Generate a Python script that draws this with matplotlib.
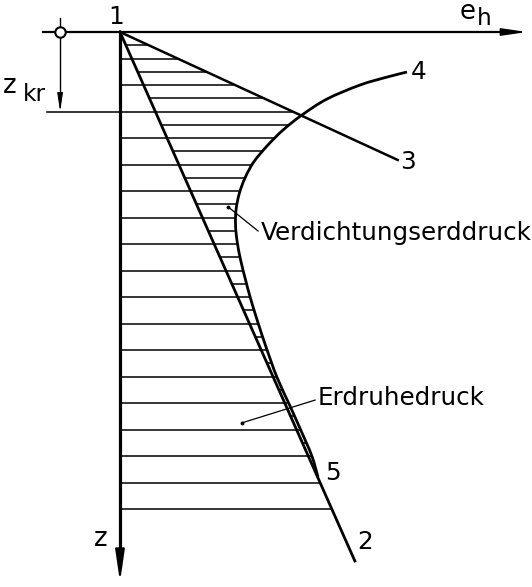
import numpy as np
import matplotlib
matplotlib.use("Agg")
import matplotlib.pyplot as plt
from matplotlib.path import Path
from matplotlib.patches import PathPatch

# ---------------- data (units: one hatch spacing) ----------------
k0_slope = 0.444          # line 1-2 (Erdruhedruck): e = k0 * z
ka_slope = 2.17           # line 1-3: e = ka * z
line12_end_z = 19.96
line13_end_z = 4.83
z_kr = 3.0
hatch_coarse_z = list(range(1, 19))            # 1 .. 18
hatch_fine_z = [k + 0.5 for k in range(0, 17)]  # 0.5 .. 16.5

# Verdichtungserddruck curve (branch ending at 4)
curve_e = [10.83, 10.08, 9.06, 7.81, 6.87, 6.15, 5.55, 5.05, 4.72, 4.50, 4.38,
           4.36, 4.42, 4.55, 4.75, 4.91, 5.21, 5.55, 5.92, 6.40, 6.82,
           7.24, 7.47]
curve_z = [1.51, 1.70, 2.00, 2.53, 3.13, 3.70, 4.30, 4.90, 5.50, 6.10, 6.70,
           7.30, 7.90, 8.60, 9.40, 10.00, 10.98, 12.00, 13.02, 14.08,
           15.02, 16.00, 16.79]

# axis extents
e_axis_min, e_axis_max = -2.9, 15.36
z_axis_max = 20.75
circle_e = -2.26
zkr_line_top = -0.53
zkr_tick_left = -2.75

labels_pts = {"1": (-0.15, -0.57), "4": (11.25, 1.51), "3": (10.87, 4.91),
              "5": (8.04, 16.64), "2": (9.25, 19.25)}

# ---------------- figure ----------------
W, H, DPI = 532, 587, 100
UNIT = 26.5
ox, oy = 120, 32
fig = plt.figure(figsize=(W / DPI, H / DPI), dpi=DPI)
ax = fig.add_axes([0, 0, 1, 1])
ax.set_xlim((0 - ox) / UNIT, (W - ox) / UNIT)
ax.set_ylim((H - oy) / UNIT, (0 - oy) / UNIT)
ax.axis("off")

FS = 17.7
lw_main = 2.0
lw_hatch = 1.1

ce = np.array(curve_e)
cz = np.array(curve_z)


def line12(z):
    return k0_slope * z


def line13(z):
    return ka_slope * z


def envelope(z):
    if z <= line13_end_z:
        env = line13(z)
        if z >= cz[0]:
            env = min(env, np.interp(z, cz, ce))
    elif z <= cz[-1]:
        env = np.interp(z, cz, ce)
    else:
        env = line12(z)
    return max(env, line12(z))


def smooth_path(xs, ys):
    """Catmull-Rom through the read points, expressed as cubic Bezier path."""
    pts = np.column_stack([xs, ys])
    verts = [pts[0]]
    codes = [Path.MOVETO]
    n = len(pts)
    for i in range(n - 1):
        p0 = pts[i - 1] if i > 0 else pts[i]
        p1, p2 = pts[i], pts[i + 1]
        p3 = pts[i + 2] if i + 2 < n else pts[i + 1]
        c1 = p1 + (p2 - p0) / 6.0
        c2 = p2 - (p3 - p1) / 6.0
        verts += [c1, c2, p2]
        codes += [Path.CURVE4] * 3
    return Path(verts, codes)


# hatching
for z in hatch_coarse_z:
    ax.plot([0, envelope(z)], [z, z], color="k", lw=lw_hatch, solid_capstyle="butt")
for z in hatch_fine_z:
    a, b = line12(z), envelope(z)
    if b - a > 0.05:
        ax.plot([a, b], [z, z], color="k", lw=lw_hatch, solid_capstyle="butt")

# main lines
ax.plot([0, line12(line12_end_z)], [0, line12_end_z], color="k", lw=lw_main)
ax.plot([0, line13(line13_end_z)], [0, line13_end_z], color="k", lw=lw_main * 0.9)
ax.add_patch(PathPatch(smooth_path(ce, cz), facecolor="none", edgecolor="k",
                       lw=lw_main, joinstyle="round"))

# axes
ax.plot([0, 0], [0, z_axis_max - 0.6], color="k", lw=2.3)
ax.annotate("", xy=(0, z_axis_max), xytext=(0, z_axis_max - 1.1),
            arrowprops=dict(arrowstyle="-|>,head_length=1.9,head_width=0.28",
                            lw=1.5, color="k", shrinkA=0, shrinkB=0))
ax.plot([e_axis_min, e_axis_max - 0.5], [0, 0], color="k", lw=1.6)
ax.annotate("", xy=(e_axis_max, 0), xytext=(e_axis_max - 0.9, 0),
            arrowprops=dict(arrowstyle="-|>,head_length=1.5,head_width=0.22",
                            lw=1.2, color="k", shrinkA=0, shrinkB=0))

# z_kr dimension
ax.plot([circle_e, circle_e], [zkr_line_top, z_kr - 0.4], color="k", lw=1.0)
ax.annotate("", xy=(circle_e, z_kr), xytext=(circle_e, z_kr - 0.6),
            arrowprops=dict(arrowstyle="-|>,head_length=1.1,head_width=0.17",
                            lw=0.8, color="k", shrinkA=0, shrinkB=0))
ax.plot([zkr_tick_left, 0], [z_kr, z_kr], color="k", lw=lw_hatch)
ax.plot([circle_e], [0], marker="o", ms=7.5, mfc="white", mec="k", mew=1.5)

# point labels
for t, (e, z) in labels_pts.items():
    ax.text(e, z, t, fontsize=FS, ha="center", va="center")

ax.text(13.13, -0.49, "e", fontsize=FS + 1, ha="center", va="baseline")
ax.text(13.74, -0.26, "h", fontsize=FS - 1, ha="center", va="baseline")
ax.text(-4.15, 2.04, "z", fontsize=FS + 1, ha="center", va="center")
ax.text(-3.21, 2.35, "kr", fontsize=FS - 1, ha="center", va="center")
ax.text(-0.72, 19.13, "z", fontsize=FS + 1, ha="center", va="center")

# annotations with leaders
ax.plot([4.08, 5.21], [6.60, 7.51], color="k", lw=0.9)
ax.plot([4.08], [6.60], marker="o", ms=1.8, color="k")
ax.text(5.30, 7.58, "Verdichtungserddruck", fontsize=FS, ha="left", va="center")
ax.plot([4.60, 7.36], [14.75, 13.89], color="k", lw=0.9)
ax.plot([4.60], [14.75], marker="o", ms=1.8, color="k")
ax.text(7.47, 13.81, "Erdruhedruck", fontsize=FS, ha="left", va="center")

fig.savefig("out.png", dpi=DPI)
